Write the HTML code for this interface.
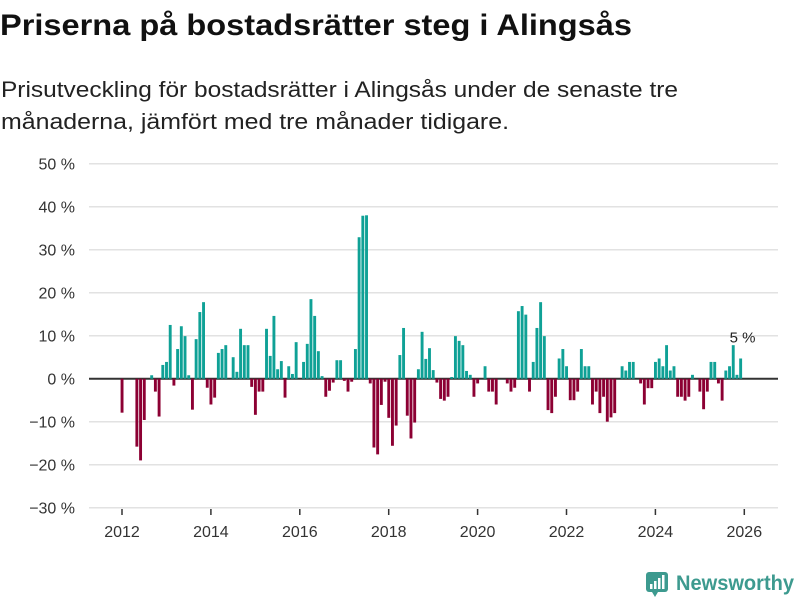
<!DOCTYPE html>
<html><head><meta charset="utf-8">
<style>
body{margin:0;background:#fff;width:800px;height:600px;overflow:hidden;font-family:"Liberation Sans",sans-serif;}
svg{display:block}
</style></head>
<body>
<svg id="chart" width="800" height="600">
  <text x="0" y="35" font-size="30" font-weight="bold" fill="#111" textLength="632" lengthAdjust="spacingAndGlyphs">Priserna på bostadsrätter steg i Alingsås</text>
  <text x="1" y="97" font-size="22" fill="#222" textLength="677" lengthAdjust="spacingAndGlyphs">Prisutveckling för bostadsrätter i Alingsås under de senaste tre</text>
  <text x="1" y="129" font-size="22" fill="#222" textLength="508" lengthAdjust="spacingAndGlyphs">månaderna, jämfört med tre månader tidigare.</text>
  <g id="grid"></g>
  <g id="bars"></g>
  <g id="xaxis"></g>
  <g>
    <rect x="646" y="572" width="22" height="20" rx="3" fill="#3d9a8f"/>
    <polygon points="652,592 658,592 655,597" fill="#3d9a8f"/>
    <rect x="650" y="584" width="2.5" height="5" fill="#fff"/>
    <rect x="654" y="581" width="2.5" height="8" fill="#fff"/>
    <rect x="658" y="578" width="2.5" height="11" fill="#fff"/>
    <rect x="662" y="575" width="2.5" height="14" fill="#fff"/>
    <text x="676" y="590" font-size="21" font-weight="bold" fill="#3d9a8f" textLength="118" lengthAdjust="spacingAndGlyphs">Newsworthy</text>
  </g>
</svg>
<script>
const yTicks = [50, 40, 30, 20, 10, 0, -10, -20, -30];
const xTickYears = [2012, 2014, 2016, 2018, 2020, 2022, 2024, 2026];
const startYear = 2012;
const values = [
-7.9,null,null,null,-15.8,-19,-9.6,null,0.8,-3,-8.8,
3.2,3.9,12.5,-1.6,6.9,12.2,9.9,0.8,-7.2,9.2,15.5,17.8,
-2.1,-6,-4.4,6,6.9,7.8,null,5,1.6,11.6,7.8,7.8,
-1.9,-8.4,-3,-3,11.6,5.3,14.6,2.2,4.1,-4.4,2.9,1.1,
8.5,null,3.9,8.1,18.5,14.6,6.4,0.6,-4.2,-2.8,-0.9,4.3,
4.3,-0.5,-3,-0.7,6.9,32.9,37.9,38,-1.1,-16,-17.6,-6.1,
-0.7,-9.1,-15.6,-10.9,5.5,11.8,-8.6,-13.9,-10.2,2.2,10.9,4.6,
7.1,2,-0.9,-4.7,-5.1,-4.2,0.4,9.9,8.8,7.8,1.8,0.9,
-4.2,-1.1,null,2.9,-3,-3,-6,null,null,-1.1,-3,-2.1,
15.7,16.9,14.9,-3,3.9,11.8,17.8,9.9,-7.3,-8,-4.2,4.7,
6.9,2.9,-5,-5,-3,6.9,2.9,2.9,-6,-3,-8,-4.2,
-10,-9,-8,null,2.9,1.9,3.9,3.9,null,-1.1,-6,-2.2,
-2.2,3.9,4.7,2.9,7.8,1.9,2.9,-4.2,-4.2,-5.1,-4.2,0.9,
null,-3,-7.1,-3,3.9,3.9,-1.1,-5.1,1.9,2.9,7.8,0.9,
4.7
];
const lastLabel = "5 %";

const NS = "http://www.w3.org/2000/svg";
const X0 = 89, X1 = 778;
const y = v => 378.7 - v * 4.3;
const xYear = yr => 122 + (yr - startYear) * 44.45;
const xMonth = i => xYear(startYear + i / 12);
function mk(tag, attrs, parent){const e=document.createElementNS(NS,tag);for(const k in attrs)e.setAttribute(k,attrs[k]);parent.appendChild(e);return e;}
const grid = document.getElementById('grid'), bars = document.getElementById('bars'), xa = document.getElementById('xaxis');
yTicks.forEach(t=>{
  const l = mk('line',{x1:X0,x2:X1,y1:y(t),y2:y(t),stroke:t===0?'#333':'#e2e2e2','stroke-width':t===0?2:1.5},grid);
  
  
  const tx = mk('text',{x:75,y:y(t)+6,'text-anchor':'end','font-size':16,fill:'#333'},grid);
  tx.textContent = (t<0?'−'+(-t):t)+' %';
  
  
});
values.forEach((v,i)=>{
  if(v===null) return;
  const cx = xMonth(i);
  const r = mk('rect',{x:cx-1.4,width:2.9,y:v>=0?y(v):y(0),height:Math.abs(y(v)-y(0)),fill:v>=0?'#0fa196':'#8c0033'},bars);
  
  
});
const li = values.length-1;
const lab = mk('text',{x:xMonth(li)+2,y:y(values[li])-16,'text-anchor':'middle','font-size':15,fill:'#222'},bars);
lab.textContent = lastLabel;


xTickYears.forEach(yr=>{
  const t = mk('line',{x1:xYear(yr),x2:xYear(yr),y1:509,y2:515,stroke:'#333','stroke-width':1.5},xa);
  
  
  const tx = mk('text',{x:xYear(yr),y:537,'text-anchor':'middle','font-size':16,fill:'#333'},xa);
  tx.textContent = yr;
  
  
});
</script>
</body></html>
